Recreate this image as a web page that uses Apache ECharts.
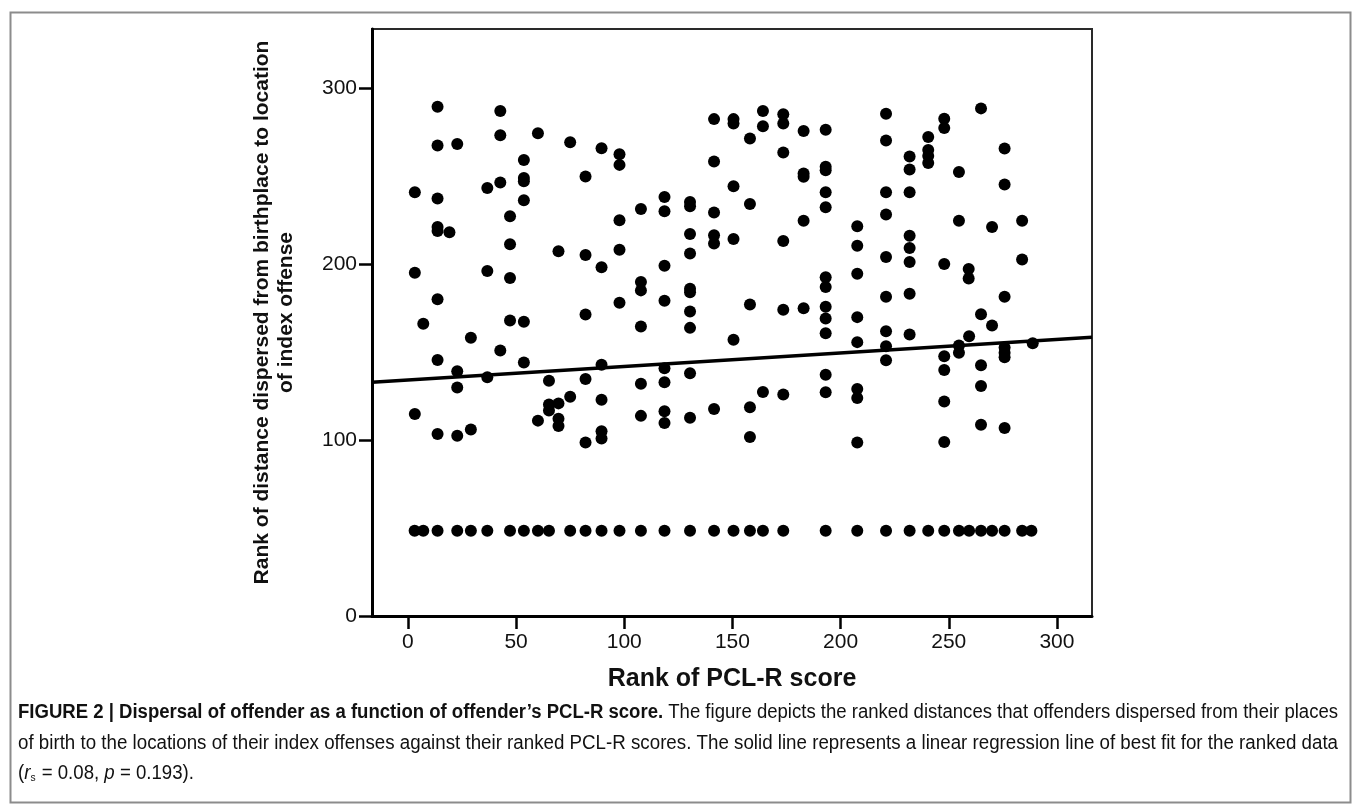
<!DOCTYPE html>
<html><head><meta charset="utf-8">
<script src="https://cdn.jsdelivr.net/npm/echarts@6/dist/echarts.min.js"></script>
<style>html,body{margin:0;padding:0;background:#fff}#chart{width:1356px;height:808px}</style>
</head><body><div id="chart"></div>
<script>
// ---- data ----
const pclRank = [
 13.7,42.7,13.7,22.8,42.7,60.1,75.0,89.5,53.6,82.1,36.7,42.7,53.6,53.6,3.2,13.7,53.6,47.2,13.7,13.7,19.2,47.2,69.6,82.1,89.5,3.2,36.7,47.2,13.7,7.1,47.2,53.6,82.1,
 97.8,97.8,141.5,150.5,150.5,164.1,164.1,173.5,173.5,158.1,182.9,193.1,141.5,173.5,182.9,182.9,193.1,193.1,150.5,193.1,118.6,118.6,107.7,130.4,130.4,158.1,141.5,193.1,97.8,182.9,130.4,141.5,141.5,150.5,173.5,207.7,97.8,130.4,207.7,118.6,193.1,193.1,207.7,107.7,107.7,130.4,130.4,130.4,97.8,118.6,158.1,173.5,182.9,193.1,193.1,207.7,107.7,130.4,193.1,
 221.0,221.0,247.9,247.9,264.9,240.5,240.5,240.5,240.5,231.9,231.9,275.8,254.7,221.0,231.9,275.8,221.0,254.7,270.0,283.9,231.9,231.9,231.9,221.0,247.9,259.2,259.2,283.9,221.0,231.9,275.8,264.9,270.0,
 29.1,13.7,42.7,53.6,22.8,36.7,22.8,3.2,13.7,22.8,29.1,65.2,82.1,89.5,89.5,65.2,65.2,69.6,75.0,60.1,69.6,69.6,82.1,89.5,89.5,
 150.5,207.7,118.6,107.7,118.6,130.4,107.7,118.6,118.6,130.4,141.5,158.1,158.1,164.1,173.5,207.7,207.7,207.7,193.1,193.1,
 221.0,231.9,221.0,221.0,247.9,247.9,254.7,254.7,259.4,264.9,264.9,275.8,275.8,275.8,288.8,247.9,247.9,264.9,275.8,
 3.1,7.1,13.7,22.8,29.1,36.7,47.2,53.6,60.1,65.2,75.0,82.1,89.5,97.8,107.7,118.6,130.4,141.5,150.5,158.1,164.1,173.5,193.1,207.7,221.0,231.9,240.5,247.9,254.7,259.4,264.9,270.0,275.8,283.9,288.2
];
const distRank = [
 289.3,286.9,267.3,268.2,273.2,274.3,269.2,265.8,259.1,249.7,243.2,246.3,248.9,247.0,240.7,237.2,236.2,227.1,221.0,218.7,218.0,211.2,207.2,205.1,198.1,195.0,196.0,192.0,179.9,166.0,167.9,167.2,171.3,
 262.4,256.3,282.3,282.3,279.8,286.9,278.3,285.0,279.8,271.3,275.5,276.2,258.2,263.3,251.4,249.5,255.2,253.3,244.2,240.7,238.1,229.9,231.3,235.2,232.8,234.1,229.2,232.2,224.8,224.6,217.0,216.3,211.6,214.2,213.0,221.4,208.1,206.0,210.4,199.0,192.4,186.9,194.5,189.7,185.0,185.9,184.0,173.0,178.0,179.1,177.0,174.0,174.9,175.7,169.0,169.8,164.5,163.7,160.7,
 285.3,270.2,282.5,277.2,288.4,272.2,264.7,261.3,257.4,261.1,253.7,265.6,252.3,240.7,240.7,245.1,228.1,224.6,221.0,224.6,216.1,209.1,201.1,203.9,200.0,197.1,191.8,202.6,181.4,183.1,181.4,171.5,165.0,
 158.1,145.5,150.8,144.0,139.1,135.6,129.8,114.8,103.4,102.4,105.9,133.7,134.7,142.7,122.9,120.1,116.7,120.8,124.6,111.0,112.0,108.0,98.6,104.9,100.9,
 156.9,155.6,140.8,131.9,132.8,137.9,113.7,116.3,109.7,112.7,117.6,118.6,101.7,127.3,125.8,129.0,123.9,98.6,137.0,127.1,
 161.8,159.9,153.3,145.3,147.6,139.8,153.7,149.5,159.0,142.5,130.7,152.5,149.5,147.0,155.0,121.8,98.9,108.7,106.8,
 48.5,48.5,48.5,48.5,48.5,48.5,48.5,48.5,48.5,48.5,48.5,48.5,48.5,48.5,48.5,48.5,48.5,48.5,48.5,48.5,48.5,48.5,48.5,48.5,48.5,48.5,48.5,48.5,48.5,48.5,48.5,48.5,48.5,48.5,48.5
];
const xTicks = [0, 50, 100, 150, 200, 250, 300];
const yTicks = [0, 100, 200, 300];
const regIntercept = 134.1;   // regression line: y = a + b*x
const regSlope = 0.0769;
const xTitle = 'Rank of PCL-R score';
const yTitle = 'Rank of distance dispersed from birthplace to location\nof index offense';
const capBold = 'FIGURE 2 | Dispersal of offender as a function of offender\u2019s PCL-R score.';
const capLine1 = ' The figure depicts the ranked distances that offenders dispersed from their places';
const capLine2 = 'of birth to the locations of their index offenses against their ranked PCL-R scores. The solid line represents a linear regression line of best fit for the ranked data';
const capLine3 = ['(', 'r', 's', ' = 0.08, ', 'p', ' = 0.193).'];

// ---- layout ----
const X_MIN = -16.6, X_MAX = 316.2, Y_MIN = 0, Y_MAX = 333.5;
const FONT = '"Liberation Sans", Arial, Helvetica, sans-serif';
const CAP_SIZE = 20;
const CAP_LEFT = 18, CAP_RIGHT = 1338;

const ctx = document.createElement('canvas').getContext('2d');
function tw(font, s){ ctx.font = font; return ctx.measureText(s).width; }
const fB = 'bold ' + CAP_SIZE + 'px "Liberation Sans"';
const fN = CAP_SIZE + 'px "Liberation Sans"';
const w1 = tw(fB, capBold) + tw(fN, capLine1);
const w2 = tw(fN, capLine2);
const s1 = (CAP_RIGHT - CAP_LEFT) / w1;
const s2 = (CAP_RIGHT - CAP_LEFT) / w2;
const s3 = (s1 + s2) / 2;

const capStyles = {
  b: {fontFamily: FONT, fontSize: CAP_SIZE, fontWeight: 'bold', fill: '#111'},
  n: {fontFamily: FONT, fontSize: CAP_SIZE, fill: '#111'},
  i: {fontFamily: FONT, fontSize: CAP_SIZE, fontStyle: 'italic', fill: '#111'},
  sub: {fontFamily: FONT, fontSize: 11, fill: '#111', verticalAlign: 'bottom', padding: [9, 1, 0, 0]}
};

const chart = echarts.init(document.getElementById('chart'), null, {renderer: 'canvas'});
chart.setOption({
  animation: false,
  backgroundColor: '#fff',
  grid: {left: 372, right: 264, top: 29, bottom: 192, show: true, borderColor: '#2a2a2a', borderWidth: 2, containLabel: false},
  xAxis: {
    type: 'value', min: X_MIN, max: X_MAX,
    axisLine: {onZero: false, lineStyle: {color: '#000', width: 3}},
    axisTick: {customValues: xTicks, length: 13, lineStyle: {color: '#000', width: 2.5}},
    axisLabel: {customValues: xTicks, fontSize: 21, margin: 16, color: '#111', fontFamily: FONT},
    splitLine: {show: false},
    name: xTitle, nameLocation: 'middle', nameGap: 51,
    nameTextStyle: {fontSize: 25, fontWeight: 'bold', color: '#111', fontFamily: FONT}
  },
  yAxis: {
    type: 'value', min: Y_MIN, max: Y_MAX,
    axisLine: {onZero: false, lineStyle: {color: '#000', width: 3}},
    axisTick: {customValues: yTicks, length: 13, lineStyle: {color: '#000', width: 2.5}},
    axisLabel: {customValues: yTicks, fontSize: 21, margin: 15, color: '#111', fontFamily: FONT},
    splitLine: {show: false},
    name: yTitle, nameLocation: 'middle', nameGap: 74, nameRotate: 90,
    nameTextStyle: {fontSize: 21, fontWeight: 'bold', color: '#111', fontFamily: FONT, lineHeight: 24, align: 'center', padding: [0, 0, 0, 20]}
  },
  series: [
    {
      type: 'scatter', symbol: 'circle', symbolSize: 12,
      itemStyle: {color: '#000', opacity: 1},
      data: pclRank.map((x, i) => [x, distRank[i]]),
      z: 3
    },
    {
      type: 'line', symbol: 'none', silent: true,
      lineStyle: {color: '#000', width: 3.5},
      data: [[X_MIN, regIntercept + regSlope * X_MIN], [X_MAX, regIntercept + regSlope * X_MAX]],
      z: 2
    }
  ],
  graphic: [
    {type: 'rect', left: 8, top: 10, shape: {x: 0, y: 0, width: 1340, height: 790}, style: {fill: 'none', stroke: '#8c8c8c', lineWidth: 2}, silent: true},
    {type: 'text', x: CAP_LEFT, y: 712, scaleX: s1,
      style: {text: '{b|' + capBold + '}{n|' + capLine1 + '}', rich: capStyles, verticalAlign: 'middle'}},
    {type: 'text', x: CAP_LEFT, y: 743, scaleX: s2,
      style: {text: '{n|' + capLine2 + '}', rich: capStyles, verticalAlign: 'middle'}},
    {type: 'text', x: CAP_LEFT, y: 773, scaleX: s3,
      style: {text: '{n|' + capLine3[0] + '}{i|' + capLine3[1] + '}{sub|' + capLine3[2] + '}{n|' + capLine3[3] + '}{i|' + capLine3[4] + '}{n|' + capLine3[5] + '}', rich: capStyles, verticalAlign: 'middle'}}
  ]
});
</script>
</body></html>
